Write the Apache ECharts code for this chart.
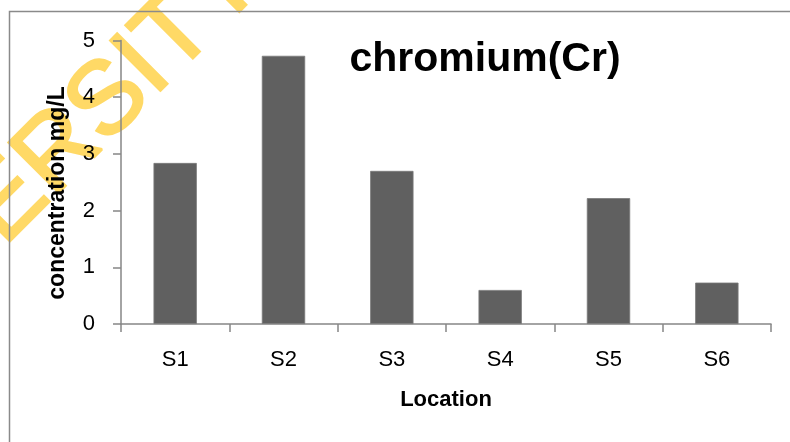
<!DOCTYPE html>
<html>
<head>
<meta charset="utf-8">
<script src="https://cdn.jsdelivr.net/npm/echarts@6/dist/echarts.min.js"></script>
<style>html,body{margin:0;padding:0;background:#fff}#c{width:790px;height:442px}</style>
</head>
<body>
<div id="c"></div>
<script>
var categories = ['S1', 'S2', 'S3', 'S4', 'S5', 'S6'];
var values = [2.84, 4.73, 2.70, 0.60, 2.22, 0.73];
var titleText = 'chromium(Cr)';
var yName = 'concentration mg/L';
var xName = 'Location';
var watermarkText = 'UNIVERSITY OF NAIROBI';

var chart = echarts.init(document.getElementById('c'), null, {renderer: 'canvas'});
var font = '"Liberation Sans", Arial, sans-serif';
chart.setOption({
  animation: false,
  backgroundColor: '#fff',
  grid: {left: 121, right: 19, top: 40.5, bottom: 118, containLabel: false},
  xAxis: {
    type: 'category',
    data: categories,
    boundaryGap: true,
    axisLine: {lineStyle: {color: '#868686', width: 1.5}},
    axisTick: {show: true, length: 8, inside: false, lineStyle: {color: '#868686', width: 1.5}},
    axisLabel: {margin: 25, fontSize: 22, color: '#000', fontFamily: font},
    splitLine: {show: false}
  },
  yAxis: {
    type: 'value',
    min: 0, max: 5, interval: 1,
    axisLine: {show: true, lineStyle: {color: '#868686', width: 1.5}},
    axisTick: {show: true, length: 8, lineStyle: {color: '#868686', width: 1.5}},
    axisLabel: {margin: 26, fontSize: 22, color: '#000', fontFamily: font},
    splitLine: {show: false}
  },
  series: [{
    type: 'bar',
    data: values,
    barCategoryGap: '60%',
    itemStyle: {color: '#606060', borderColor: '#7a7a7a', borderWidth: 0.8}
  }],
  graphic: [
    {type: 'text', x: -190, y: 401, rotation: Math.PI / 4, z: -10, silent: true,
     style: {text: watermarkText, font: '103px ' + font, fill: '#FFD966', stroke: '#FFD966', lineWidth: 2.5, align: 'left', verticalAlign: 'middle'}},
    {type: 'rect', shape: {x: 9.5, y: 11.5, width: 900, height: 600}, style: {fill: 'none', stroke: '#8a8a8a', lineWidth: 1.5}, z: 1, silent: true},
    {type: 'text', x: 485, y: 60, style: {text: titleText, font: 'bold 41px ' + font, fill: '#000', align: 'center', verticalAlign: 'middle'}, z: 10},
    {type: 'text', x: 58, y: 193, rotation: Math.PI / 2, style: {text: yName, font: 'bold 23px ' + font, fill: '#000', align: 'center', verticalAlign: 'middle'}, z: 10},
    {type: 'text', x: 446, y: 400, style: {text: xName, font: 'bold 22px ' + font, fill: '#000', align: 'center', verticalAlign: 'middle'}, z: 10}
  ]
});
</script>
</body>
</html>
